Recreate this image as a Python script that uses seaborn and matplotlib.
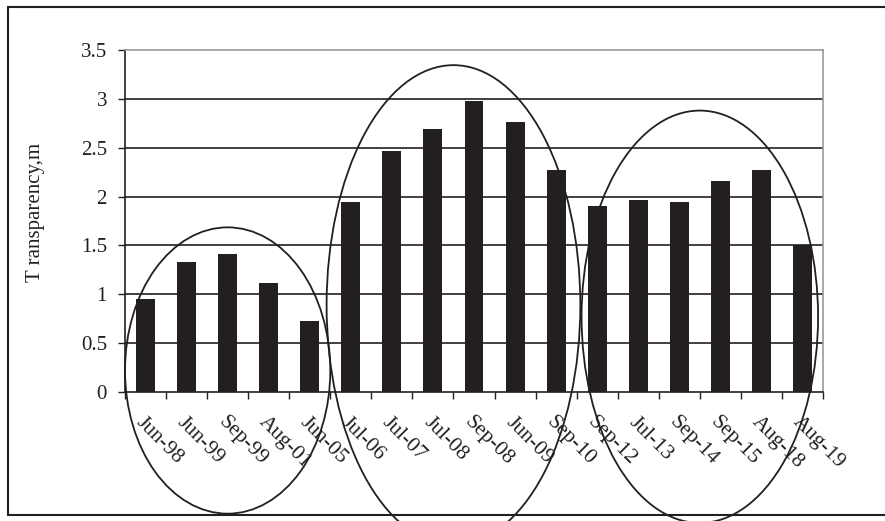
import matplotlib
matplotlib.use("Agg")
import matplotlib.pyplot as plt
from matplotlib.patches import Ellipse
from matplotlib.lines import Line2D
from matplotlib.ticker import FixedLocator
import seaborn as sns
import pandas as pd

dates = ["Jun-98", "Jun-99", "Sep-99", "Aug-01", "Jun-05",
         "Jul-06", "Jul-07", "Jul-08", "Sep-08", "Jun-09", "Sep-10",
         "Sep-12", "Jul-13", "Sep-14", "Sep-15", "Aug-18", "Aug-19"]
transparency = [0.95, 1.33, 1.41, 1.12, 0.73,
                1.94, 2.47, 2.69, 2.98, 2.76, 2.27,
                1.90, 1.96, 1.94, 2.16, 2.27, 1.50]
y_ticks = [0, 0.5, 1, 1.5, 2, 2.5, 3, 3.5]
y_tick_labels = ["0", "0.5", "1", "1.5", "2", "2.5", "3", "3.5"]

# period groups outlined by ellipses: (first index, last index, centre y, height, width scale)
periods = [(0, 4, 0.22, 2.93, 1.0),
           (5, 10, 0.89, 4.91, 1.03),
           (11, 16, 0.77, 4.22, 0.96)]

sns.set_theme(style="white")
plt.rcParams["font.family"] = ["Liberation Serif", "DejaVu Serif"]

ink = "#231f20"
df = pd.DataFrame({"date": dates, "value": transparency})

fig = plt.figure(figsize=(8.85, 5.21), dpi=100)
ax = fig.add_axes([125 / 885, 1 - 392 / 521, (823 - 125) / 885, (392 - 50) / 521])

sns.barplot(data=df, x="date", y="value", color=ink, saturation=1,
            width=0.46, ax=ax, zorder=3)
for p in ax.patches:
    p.set_edgecolor("none")

ax.set_xlim(-0.5, len(dates) - 0.5)
ax.set_ylim(0, 3.5)
ax.set_yticks(y_ticks)
ax.set_yticklabels(y_tick_labels)
ax.grid(False)
for y in y_ticks[1:-1]:
    ax.axhline(y, color=ink, lw=1.2, zorder=1)

ax.set_xticks(range(len(dates)))
ax.set_xticklabels(dates, rotation=-45, ha="left", va="top", rotation_mode="anchor")
ax.xaxis.set_minor_locator(FixedLocator([i - 0.5 for i in range(len(dates) + 1)]))
ax.tick_params(axis="x", which="major", length=0, pad=15, labelsize=15.5, colors=ink)
ax.tick_params(axis="x", which="minor", length=5, width=1, color=ink, direction="out", bottom=True)
ax.tick_params(axis="y", which="major", length=5, width=1, color=ink, direction="out",
               left=True, labelsize=15, labelcolor=ink, pad=8)

ax.set_xlabel("")
ax.set_ylabel("T ransparency,m", fontsize=15, color=ink)
ax.yaxis.set_label_coords(-0.115, 0.526)

for side in ["left", "bottom"]:
    ax.spines[side].set_color(ink)
    ax.spines[side].set_linewidth(1.2)
for side in ["top", "right"]:
    ax.spines[side].set_color("#999999")
    ax.spines[side].set_linewidth(1.2)
    ax.spines[side].set_visible(True)

for first, last, cy, h, k in periods:
    cx = (first + last) / 2
    w = (last - first + 1) * k
    ax.add_patch(Ellipse((cx, cy), w, h, fill=False, edgecolor=ink,
                         lw=1.3, clip_on=False, zorder=4))

# outer frame, open on the right-hand side
W, H = 885, 521
for xs, ys in [([8, W], [H - 7, H - 7]), ([8, 8], [H - 7, H - 515]), ([8, W], [H - 515, H - 515])]:
    fig.add_artist(Line2D([x / W for x in xs], [y / H for y in ys], color=ink,
                          lw=1.5, transform=fig.transFigure))

fig.savefig("out.png", dpi=100)
